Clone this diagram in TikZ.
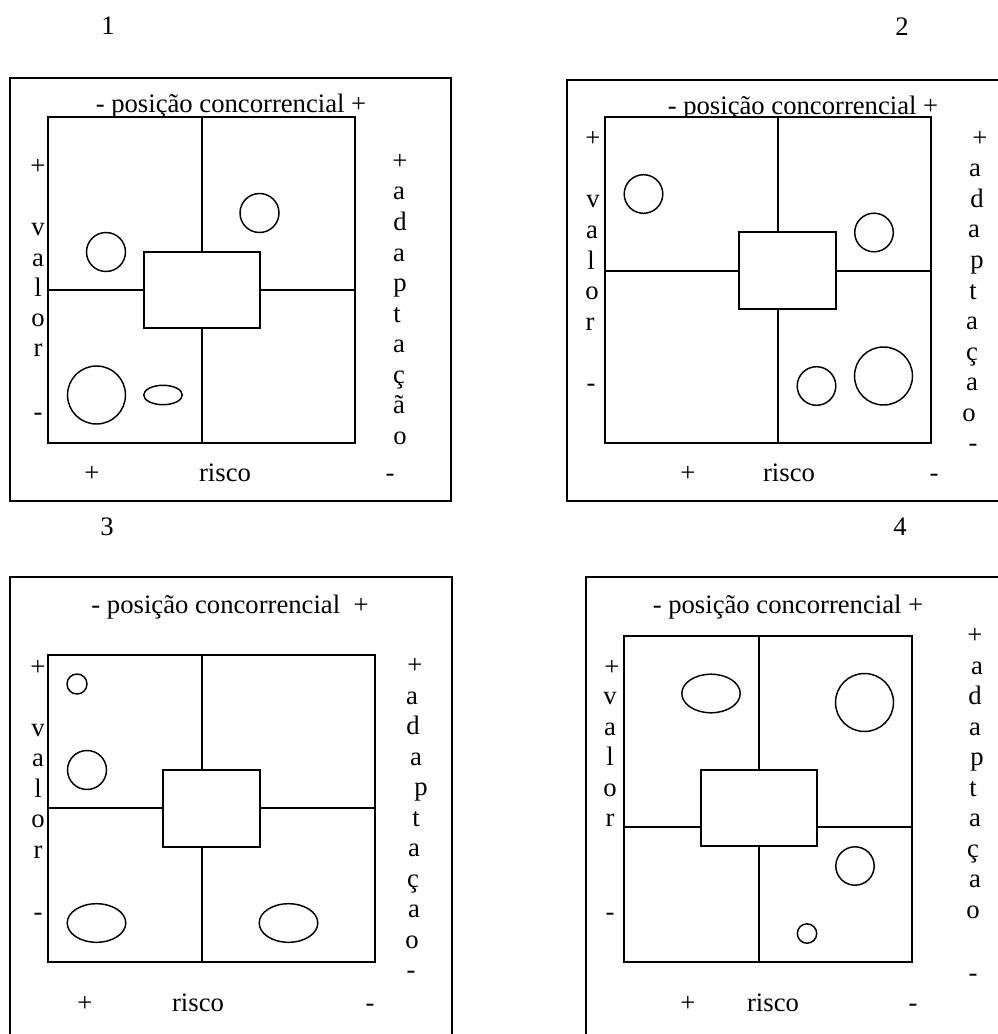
\documentclass[tikz,border=0pt]{standalone}
\usepackage{fontspec}
\setmainfont{Liberation Serif}
\begin{document}
\begin{tikzpicture}[x=0.75pt,y=-0.75pt,
  frame/.style={line width=1.4pt},
  quad/.style={line width=1.1pt},
  core/.style={line width=1.1pt, fill=white},
  blob/.style={line width=1.1pt},
  lbl/.style={font=\fontsize{20}{24}\selectfont, inner sep=0pt, anchor=base}]

\useasboundingbox (0,0) rectangle (998,1034);
\clip (0,0) rectangle (998,1034);

% ---------------- panel 1 ----------------
\draw[frame] (10,78) rectangle (451,501);
\node[lbl] (n1) at (108,35) {1};
\node[lbl] (t1) at (231,113) {- posição concorrencial +};
\draw[quad, fill=white] (48,117) rectangle (355,443);
\draw[quad] (202,117) -- (202,443) (48,290) -- (355,290);
\draw[core] (144,252) rectangle (260,328);
\draw[blob] (106,252) circle (19.5);
\draw[blob] (259.5,213) circle (19.5);
\draw[blob] (96.5,395) circle (29);
\draw[blob] (163,395) ellipse (19.3 and 9.7);
\foreach \c/\x/\y [count=\k] in {+/38/175, v/38/236, a/38/266, l/38/296, o/38/326, r/38/356, -/38/420}
  \node[lbl] (p1l\k) at (\x,\y) {\c};
\foreach \c/\x/\y [count=\k] in {+/400/170, a/399/200, d/400/230.5, a/399/261, p/400/291.5, t/397/322, a/399/352.5, ç/399/383, ã/399/413.5, o/400/444}
  \node[lbl] (p1r\k) at (\x,\y) {\c};
\node[lbl] (p1b1) at (92,481) {+};
\node[lbl] (p1b2) at (225,481) {risco};
\node[lbl] (p1b3) at (390,481) {-};

% ---------------- panel 2 ----------------
\draw[frame] (567,80) rectangle (1010,501);
\node[lbl] (n2) at (902,36) {2};
\node[lbl] (t2) at (803,115) {- posição concorrencial +};
\draw[quad, fill=white] (605,117) rectangle (931,443);
\draw[quad] (778,117) -- (778,443) (605,271) -- (931,271);
\draw[core] (739,232) rectangle (836,309);
\draw[blob] (643.5,194) circle (19.3);
\draw[blob] (874,232.5) circle (19.3);
\draw[blob] (816.5,386) circle (19.3);
\draw[blob] (883.5,376) circle (29);
\foreach \c/\x/\y [count=\k] in {+/593/147, v/593/208, a/592/238.5, l/591/269, o/592/299.5, r/590/330, -/591/391}
  \node[lbl] (p2l\k) at (\x,\y) {\c};
\foreach \c/\x/\y [count=\k] in {+/980/147, a/975/177, d/977/207.5, a/974/238, p/977/268.5, t/973/299, a/972/329.5, ç/972/360, a/972/390.5, o/969/421, -/973/451.5}
  \node[lbl] (p2r\k) at (\x,\y) {\c};
\node[lbl] (p2b1) at (688,481) {+};
\node[lbl] (p2b2) at (789,481) {risco};
\node[lbl] (p2b3) at (934,481) {-};

% ---------------- panel 3 ----------------
\draw[frame] (10,577) rectangle (452,1050);
\node[lbl] (n3) at (107,535) {3};
\node[lbl] (t3) at (230,613) {- posição concorrencial~~+};
\draw[quad, fill=white] (48,655) rectangle (375,962);
\draw[quad] (202,655) -- (202,962) (48,808) -- (375,808);
\draw[core] (163,770) rectangle (260,847);
\draw[blob] (77,684) circle (10);
\draw[blob] (87,770) circle (19.5);
\draw[blob] (96.5,923) ellipse (29.3 and 19.3);
\draw[blob] (288.5,923) ellipse (29.3 and 19.3);
\foreach \c/\x/\y [count=\k] in {+/38/675, v/38/736, a/38/766.5, l/38/797, o/38/827.5, r/38/858, -/38/920}
  \node[lbl] (p3l\k) at (\x,\y) {\c};
\foreach \c/\x/\y [count=\k] in {+/415/673.5, a/412/704, d/413/734.5, a/416/765, p/421/795.5, t/416/826, a/414/856.5, ç/413/887, a/414/917.5, o/412/948, -/411/978.5}
  \node[lbl] (p3r\k) at (\x,\y) {\c};
\node[lbl] (p3b1) at (85,1011) {+};
\node[lbl] (p3b2) at (198,1011) {risco};
\node[lbl] (p3b3) at (370,1011) {-};

% ---------------- panel 4 ----------------
\draw[frame] (586,577) rectangle (1010,1050);
\node[lbl] (n4) at (900,535) {4};
\node[lbl] (t4) at (788,613) {- posição concorrencial +};
\draw[quad, fill=white] (624,636) rectangle (912,962);
\draw[quad] (759,636) -- (759,962) (624,827) -- (912,827);
\draw[core] (701,770) rectangle (817,846);
\draw[blob] (711,693.5) ellipse (29.2 and 19.3);
\draw[blob] (864.5,702.5) circle (29);
\draw[blob] (855,866) circle (19.2);
\draw[blob] (807,933.5) circle (9.7);
\foreach \c/\x/\y [count=\k] in {+/612/675, v/610/704.5, a/610/735, l/610/765.5, o/610/796, r/610/826.5, -/610/920}
  \node[lbl] (p4l\k) at (\x,\y) {\c};
\foreach \c/\x/\y [count=\k] in {+/975/643.5, a/977/674, d/975/704.5, a/975/735, p/977/765.5, t/973/796, a/975/826.5, ç/973/857, a/975/887.5, o/973/918, -/973/981}
  \node[lbl] (p4r\k) at (\x,\y) {\c};
\node[lbl] (p4b1) at (688,1011) {+};
\node[lbl] (p4b2) at (773,1011) {risco};
\node[lbl] (p4b3) at (913,1011) {-};
\end{tikzpicture}
\end{document}
